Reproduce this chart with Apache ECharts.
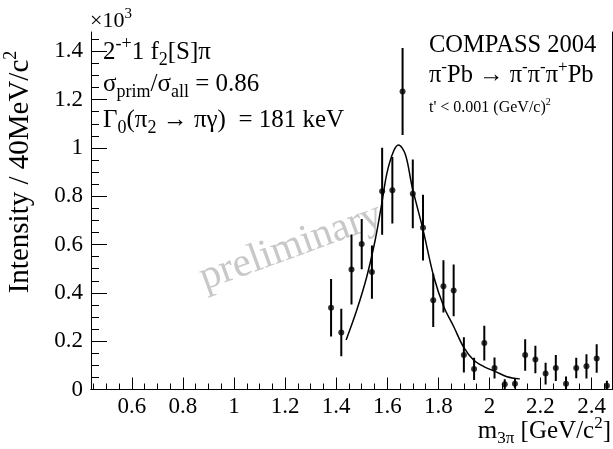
<!DOCTYPE html>
<html>
<head>
<meta charset="utf-8">
<script src="https://cdn.jsdelivr.net/npm/echarts@6/dist/echarts.min.js"></script>
<style>
html,body{margin:0;padding:0;background:#fff;}
#chart{width:613px;height:449px;}
</style>
</head>
<body>
<div id="chart"></div>
<script>
// ---- data (values in units of 10^3) ----
const massBins = [1.38, 1.42, 1.46, 1.50, 1.54, 1.58, 1.62, 1.66, 1.70, 1.74, 1.78, 1.82, 1.86,
                  1.90, 1.94, 1.98, 2.02, 2.06, 2.10, 2.14, 2.18, 2.22, 2.26, 2.30, 2.34, 2.38, 2.42, 2.46];
const intensity = [0.338, 0.236, 0.497, 0.602, 0.486, 0.821, 0.825, 1.234, 0.810, 0.670, 0.369, 0.427, 0.410,
                   0.143, 0.085, 0.192, 0.089, 0.022, 0.024, 0.143, 0.124, 0.066, 0.089, 0.024, 0.089, 0.096, 0.128, 0.016];
const intensityErr = [0.119, 0.098, 0.145, 0.104, 0.110, 0.180, 0.138, 0.180, 0.142, 0.136, 0.110, 0.108, 0.107,
                      0.073, 0.046, 0.072, 0.043, 0.020, 0.020, 0.065, 0.057, 0.045, 0.054, 0.030, 0.042, 0.050, 0.059, 0.020];
const fitX = [1.439, 1.481, 1.520, 1.553, 1.579, 1.599, 1.625, 1.644, 1.671, 1.697, 1.740, 1.782, 1.821, 1.860, 1.899, 1.938, 1.978, 2.024, 2.069, 2.119];
const fitY = [0.205, 0.330, 0.468, 0.620, 0.773, 0.897, 0.987, 1.012, 0.973, 0.841, 0.662, 0.468, 0.344, 0.261, 0.175, 0.122, 0.095, 0.074, 0.053, 0.044];
const xTickLabels = [0.6, 0.8, 1.0, 1.2, 1.4, 1.6, 1.8, 2.0, 2.2, 2.4];
const yTickLabels = [0, 0.2, 0.4, 0.6, 0.8, 1.0, 1.2, 1.4];
const xRange = [0.44, 2.48];
const yRange = [0, 1.48];

// minor tick positions (0.05 steps)
const xMinor = [];
for (let i = 9; i <= 49; i++) xMinor.push(+(i * 0.05).toFixed(2));
const yMinor = [];
for (let i = 0; i <= 29; i++) yMinor.push(+(i * 0.05).toFixed(2));

const FONT = '"Liberation Serif", "Times New Roman", serif';
const chart = echarts.init(document.getElementById('chart'), null, {renderer: 'canvas'});

function richSet(size, supSize, lh) {
  return {
    n: {fontSize: size, fontFamily: FONT, fill: '#000', color: '#000', lineHeight: lh, verticalAlign: 'middle'},
    sup: {fontSize: supSize, fontFamily: FONT, fill: '#000', color: '#000', lineHeight: supSize, verticalAlign: 'top'},
    sub: {fontSize: supSize, fontFamily: FONT, fill: '#000', color: '#000', lineHeight: supSize, verticalAlign: 'bottom'}
  };
}
function txt(x, y, text, size, supSize, lh, align, extra) {
  return Object.assign({
    type: 'text', x: x, y: y, z: 10, silent: true,
    style: {text: text, rich: richSet(size, supSize, lh), align: align || 'left', verticalAlign: 'middle',
            fontFamily: FONT, fontSize: size, fill: '#000'}
  }, extra || {});
}

const errData = massBins.map((m, i) => [m, intensity[i], intensityErr[i]]);
const ptData = massBins.map((m, i) => [m, intensity[i]]);
const fitData = fitX.map((x, i) => [x, fitY[i]]);

const axisLineStyle = {color: '#000', width: 1};

const option = {
  animation: false,
  backgroundColor: '#fff',
  grid: {left: 91, right: 1, top: 32, bottom: 59.5, containLabel: false, outerBoundsMode: 'none'},
  xAxis: [
    {type: 'value', min: xRange[0], max: xRange[1], position: 'bottom',
     axisLine: {show: true, lineStyle: axisLineStyle},
     axisTick: {show: true, inside: true, length: 12, customValues: xTickLabels, lineStyle: axisLineStyle},
     axisLabel: {show: true, customValues: xTickLabels, margin: 6, fontSize: 23, fontFamily: FONT, color: '#000'},
     splitLine: {show: false}},
    {type: 'value', min: xRange[0], max: xRange[1], position: 'bottom',
     axisLine: {show: false},
     axisTick: {show: true, inside: true, length: 6, customValues: xMinor, lineStyle: axisLineStyle},
     axisLabel: {show: false}, splitLine: {show: false}},
    {type: 'value', min: xRange[0], max: xRange[1], position: 'top',
     axisLine: {show: true, lineStyle: axisLineStyle},
     axisTick: {show: false}, axisLabel: {show: false}, splitLine: {show: false}}
  ],
  yAxis: [
    {type: 'value', min: yRange[0], max: yRange[1], position: 'left',
     axisLine: {show: true, lineStyle: axisLineStyle},
     axisTick: {show: true, inside: true, length: 16, customValues: yTickLabels, lineStyle: axisLineStyle},
     axisLabel: {show: true, customValues: yTickLabels, margin: 8, fontSize: 23, fontFamily: FONT, color: '#000'},
     splitLine: {show: false}},
    {type: 'value', min: yRange[0], max: yRange[1], position: 'left',
     axisLine: {show: false},
     axisTick: {show: true, inside: true, length: 8, customValues: yMinor, lineStyle: axisLineStyle},
     axisLabel: {show: false}, splitLine: {show: false}},
    {type: 'value', min: yRange[0], max: yRange[1], position: 'right',
     axisLine: {show: true, lineStyle: axisLineStyle},
     axisTick: {show: false}, axisLabel: {show: false}, splitLine: {show: false}}
  ],
  graphic: [
    // watermark
    {type: 'text', x: 291, y: 247, rotation: 20 * Math.PI / 180, z: 1, silent: true,
     style: {text: 'preliminary', fontSize: 41, fontFamily: FONT, fill: '#c8c8c8', align: 'center', verticalAlign: 'middle'}},
    txt(90, 21, '{n|\u00d710}{sup|3}', 22, 15, 28, 'left'),
    txt(103, 52, '{n|2}{sup|-+}{n|1 f}{sub|2}{n|[S]\u03c0}', 25, 18, 34, 'left'),
    txt(103, 84, '{n|\u03c3}{sub|prim}{n|/\u03c3}{sub|all}{n| = 0.86}', 25, 18, 34, 'left'),
    txt(103, 120, '{n|\u0393}{sub|0}{n|(\u03c0}{sub|2}{n| \u2192 \u03c0\u03b3)  = 181 keV}', 25, 18, 34, 'left'),
    txt(429, 46, '{n|COMPASS 2004}', 24.5, 16, 32, 'left'),
    txt(429, 76, '{n|\u03c0}{sup|-}{n|Pb \u2192 \u03c0}{sup|-}{n|\u03c0}{sup|-}{n|\u03c0}{sup|+}{n|Pb}', 24.5, 17, 34, 'left'),
    txt(429, 108, "{n|t' < 0.001 (GeV/c)}{sup|2}", 16, 10, 22, 'left'),
    txt(611, 431, '{n|m}{sub|3\u03c0}{n| [GeV/c}{sup|2}{n|]}', 25, 17, 32, 'right'),
    txt(20, 172, '{n|Intensity / 40MeV/c}{sup|2}', 29, 18, 36, 'center', {rotation: Math.PI / 2})
  ],
  series: [
    {type: 'line', name: 'fit', data: fitData, xAxisIndex: 0, yAxisIndex: 0,
     smooth: 0.35, showSymbol: false, symbol: 'none', z: 3,
     lineStyle: {color: '#000', width: 1.5}},
    {type: 'custom', name: 'err', data: errData, xAxisIndex: 0, yAxisIndex: 0, z: 4, clip: true,
     renderItem: function (params, api) {
       const x = api.value(0), y = api.value(1), e = api.value(2);
       const p1 = api.coord([x, y - e]);
       const p2 = api.coord([x, y + e]);
       return {type: 'line', shape: {x1: p1[0], y1: p1[1], x2: p2[0], y2: p2[1]},
               style: {stroke: '#000', lineWidth: 2}};
     }},
    {type: 'scatter', name: 'data', data: ptData, xAxisIndex: 0, yAxisIndex: 0, z: 5,
     symbol: 'circle', symbolSize: 6, itemStyle: {color: '#000'}}
  ]
};
chart.setOption(option);
</script>
</body>
</html>
